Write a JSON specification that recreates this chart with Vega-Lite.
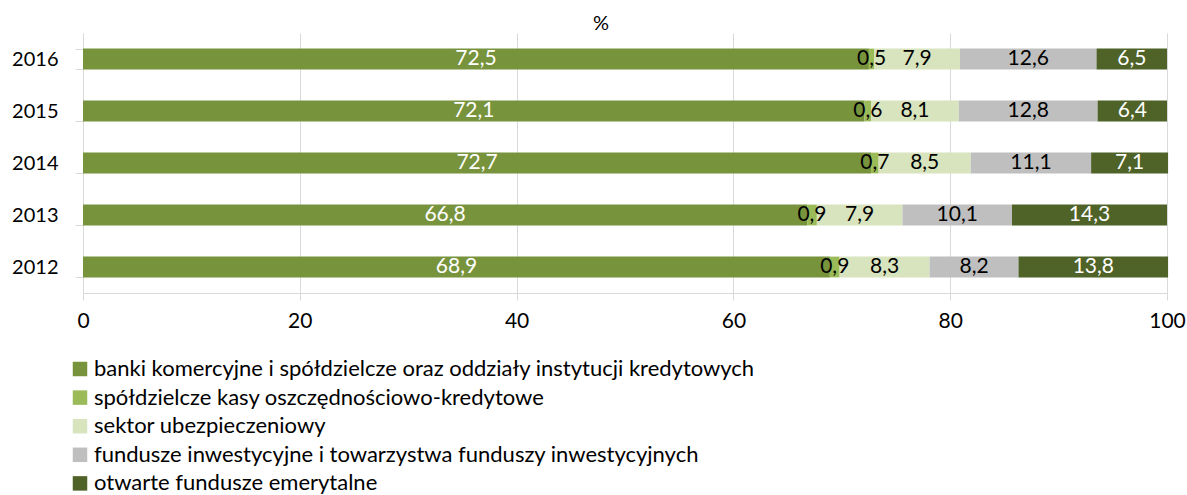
{
  "$schema": "https://vega.github.io/schema/vega-lite/v6.json",
  "width": 1084,
  "height": 260,
  "autosize": {"type": "none"},
  "padding": {"left": 83, "top": 33, "right": 20, "bottom": 202},
  "background": "white",
  "title": {"text": "%", "fontSize": 20, "fontWeight": "normal", "font": "Lato", "color": "#000000", "dx": -24, "dy": 14, "offset": 3},
  "config": {
    "locale": {"number": {"decimal": ",", "thousands": " ", "grouping": [3], "currency": ["", " zł"]}},
    "view": {"stroke": null},
    "font": "Lato"
  },
  "data": {
    "values": [
      {"year": "2016", "idx": 1, "cat": "banki komercyjne i spółdzielcze oraz oddziały instytucji kredytowych", "value": 72.5},
      {"year": "2016", "idx": 2, "cat": "spółdzielcze kasy oszczędnościowo-kredytowe", "value": 0.5},
      {"year": "2016", "idx": 3, "cat": "sektor ubezpieczeniowy", "value": 7.9},
      {"year": "2016", "idx": 4, "cat": "fundusze inwestycyjne i towarzystwa funduszy inwestycyjnych", "value": 12.6},
      {"year": "2016", "idx": 5, "cat": "otwarte fundusze emerytalne", "value": 6.5},
      {"year": "2015", "idx": 1, "cat": "banki komercyjne i spółdzielcze oraz oddziały instytucji kredytowych", "value": 72.1},
      {"year": "2015", "idx": 2, "cat": "spółdzielcze kasy oszczędnościowo-kredytowe", "value": 0.6},
      {"year": "2015", "idx": 3, "cat": "sektor ubezpieczeniowy", "value": 8.1},
      {"year": "2015", "idx": 4, "cat": "fundusze inwestycyjne i towarzystwa funduszy inwestycyjnych", "value": 12.8},
      {"year": "2015", "idx": 5, "cat": "otwarte fundusze emerytalne", "value": 6.4},
      {"year": "2014", "idx": 1, "cat": "banki komercyjne i spółdzielcze oraz oddziały instytucji kredytowych", "value": 72.7},
      {"year": "2014", "idx": 2, "cat": "spółdzielcze kasy oszczędnościowo-kredytowe", "value": 0.7},
      {"year": "2014", "idx": 3, "cat": "sektor ubezpieczeniowy", "value": 8.5},
      {"year": "2014", "idx": 4, "cat": "fundusze inwestycyjne i towarzystwa funduszy inwestycyjnych", "value": 11.1},
      {"year": "2014", "idx": 5, "cat": "otwarte fundusze emerytalne", "value": 7.1},
      {"year": "2013", "idx": 1, "cat": "banki komercyjne i spółdzielcze oraz oddziały instytucji kredytowych", "value": 66.8},
      {"year": "2013", "idx": 2, "cat": "spółdzielcze kasy oszczędnościowo-kredytowe", "value": 0.9},
      {"year": "2013", "idx": 3, "cat": "sektor ubezpieczeniowy", "value": 7.9},
      {"year": "2013", "idx": 4, "cat": "fundusze inwestycyjne i towarzystwa funduszy inwestycyjnych", "value": 10.1},
      {"year": "2013", "idx": 5, "cat": "otwarte fundusze emerytalne", "value": 14.3},
      {"year": "2012", "idx": 1, "cat": "banki komercyjne i spółdzielcze oraz oddziały instytucji kredytowych", "value": 68.9},
      {"year": "2012", "idx": 2, "cat": "spółdzielcze kasy oszczędnościowo-kredytowe", "value": 0.9},
      {"year": "2012", "idx": 3, "cat": "sektor ubezpieczeniowy", "value": 8.3},
      {"year": "2012", "idx": 4, "cat": "fundusze inwestycyjne i towarzystwa funduszy inwestycyjnych", "value": 8.2},
      {"year": "2012", "idx": 5, "cat": "otwarte fundusze emerytalne", "value": 13.8}
    ]
  },
  "transform": [
    {"stack": "value", "groupby": ["year"], "sort": [{"field": "idx", "order": "ascending"}], "as": ["v0", "v1"]},
    {"calculate": "(datum.v0 + datum.v1) / 2", "as": "mid"}
  ],
  "encoding": {
    "y": {
      "field": "year", "type": "nominal", "sort": "descending", "title": null,
      "scale": {"paddingInner": 0.6, "paddingOuter": 0.3},
      "axis": {"tickBand": "extent", "tickSize": 8, "tickColor": "#d9d9d9", "domainColor": "#d9d9d9", "labelFontSize": 20, "labelColor": "#000000", "labelPadding": 17, "labelFont": "Lato"}
    }
  },
  "layer": [
    {
      "mark": {"type": "bar"},
      "encoding": {
        "x": {
          "field": "v0", "type": "quantitative", "title": null,
          "scale": {"domain": [0, 100], "nice": false},
          "axis": {"values": [0, 20, 40, 60, 80, 100], "grid": true, "gridColor": "#d9d9d9", "domainColor": "#d9d9d9", "tickColor": "#d9d9d9", "tickSize": 7, "labelFontSize": 21, "labelColor": "#000000", "labelPadding": 10, "labelFont": "Lato", "labelFlush": false}
        },
        "x2": {"field": "v1"},
        "color": {
          "field": "cat", "type": "nominal",
          "scale": {
            "domain": ["banki komercyjne i spółdzielcze oraz oddziały instytucji kredytowych", "spółdzielcze kasy oszczędnościowo-kredytowe", "sektor ubezpieczeniowy", "fundusze inwestycyjne i towarzystwa funduszy inwestycyjnych", "otwarte fundusze emerytalne"],
            "range": ["#77933C", "#9BBB59", "#D7E4BD", "#BFBFBF", "#4F6228"]
          },
          "legend": {
            "title": null, "orient": "none", "legendX": -14, "legendY": 325, "direction": "vertical",
            "symbolType": "square", "symbolSize": 210, "symbolStrokeWidth": 0, "symbolOpacity": 1,
            "labelFontSize": 22, "labelFont": "Lato", "labelColor": "#000000", "labelLimit": 1000, "rowPadding": 6.6, "labelOffset": 3
          }
        }
      }
    },
    {
      "mark": {"type": "text", "fontSize": 21, "font": "Lato", "align": "center", "baseline": "middle"},
      "encoding": {
        "x": {"field": "mid", "type": "quantitative"},
        "text": {"field": "value", "type": "quantitative", "format": ".1f"},
        "color": {
          "condition": {"test": "datum.idx === 1 || datum.idx === 5", "value": "#ffffff"},
          "value": "#000000"
        }
      }
    }
  ]
}
